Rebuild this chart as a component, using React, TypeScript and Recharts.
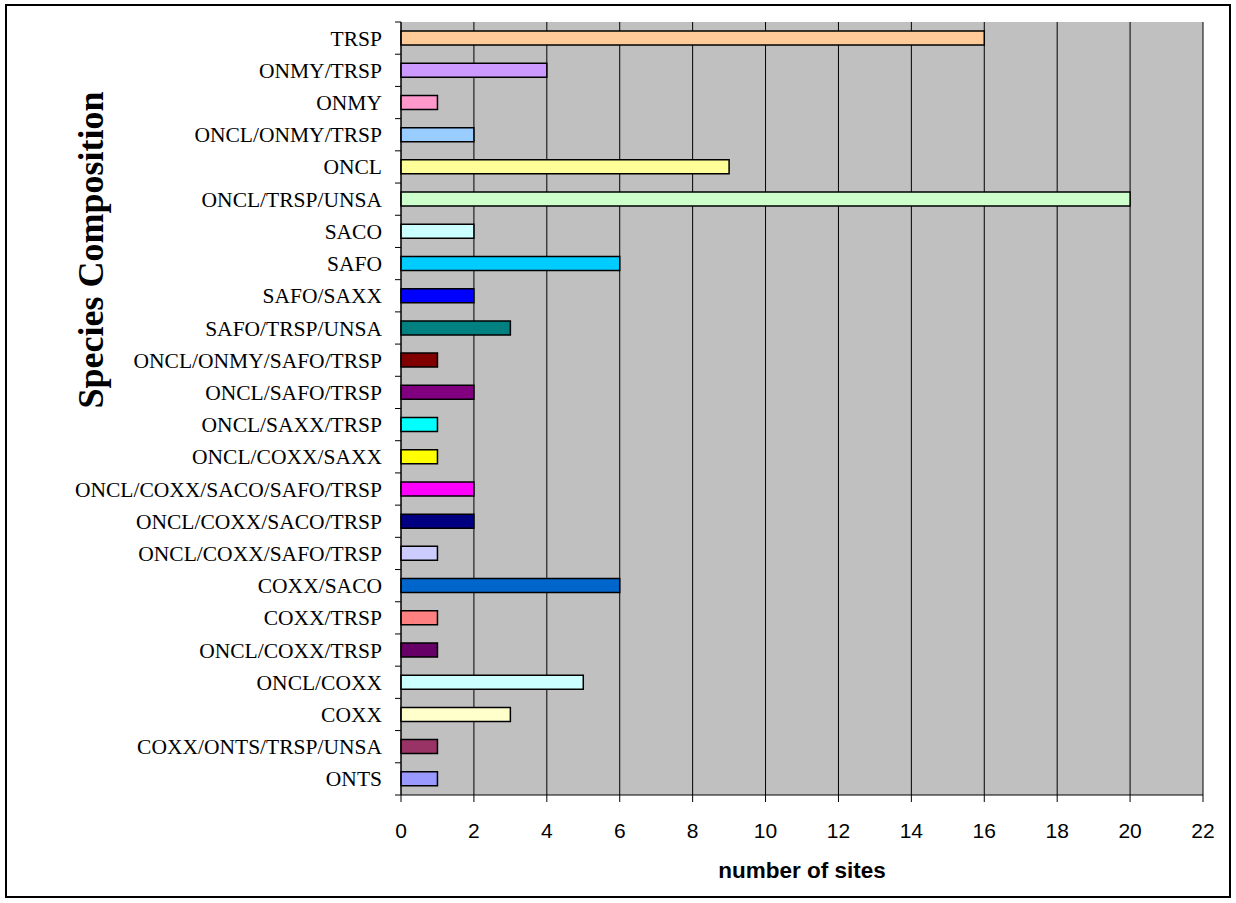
import { BarChart, Bar, Cell, XAxis, YAxis, CartesianGrid } from 'recharts';

const categories = [
  'TRSP',
  'ONMY/TRSP',
  'ONMY',
  'ONCL/ONMY/TRSP',
  'ONCL',
  'ONCL/TRSP/UNSA',
  'SACO',
  'SAFO',
  'SAFO/SAXX',
  'SAFO/TRSP/UNSA',
  'ONCL/ONMY/SAFO/TRSP',
  'ONCL/SAFO/TRSP',
  'ONCL/SAXX/TRSP',
  'ONCL/COXX/SAXX',
  'ONCL/COXX/SACO/SAFO/TRSP',
  'ONCL/COXX/SACO/TRSP',
  'ONCL/COXX/SAFO/TRSP',
  'COXX/SACO',
  'COXX/TRSP',
  'ONCL/COXX/TRSP',
  'ONCL/COXX',
  'COXX',
  'COXX/ONTS/TRSP/UNSA',
  'ONTS'
];

const siteCounts = [16, 4, 1, 2, 9, 20, 2, 6, 2, 3, 1, 2, 1, 1, 2, 2, 1, 6, 1, 1, 5, 3, 1, 1];

const barColors = [
  '#FFCC99', '#CC99FF', '#FF99CC', '#99CCFF', '#FFFF99', '#CCFFCC',
  '#CCFFFF', '#00CCFF', '#0000FF', '#008080', '#800000', '#800080',
  '#00FFFF', '#FFFF00', '#FF00FF', '#000080', '#CCCCFF', '#0066CC',
  '#FF8080', '#660066', '#CCFFFF', '#FFFFCC', '#993366', '#9999FF'
];

const xTicks = [0, 2, 4, 6, 8, 10, 12, 14, 16, 18, 20, 22];

// layout
const W = 1236;
const H = 903;
const PLOT_LEFT = 401;
const PLOT_TOP = 22;
const PLOT_BOTTOM = 795;
const BAND = (PLOT_BOTTOM - PLOT_TOP) / categories.length;

const data = categories.map((name, i) => ({ name, sites: siteCounts[i] }));

const CategoryTick = ({ y, payload, index }: any) => (
  <g>
    <line x1={PLOT_LEFT - 6} x2={PLOT_LEFT} y1={y - BAND / 2} y2={y - BAND / 2} stroke="#000" />
    {index === categories.length - 1 && (
      <line x1={PLOT_LEFT - 6} x2={PLOT_LEFT} y1={y + BAND / 2} y2={y + BAND / 2} stroke="#000" />
    )}
    <text
      x={PLOT_LEFT - 19}
      y={y}
      dy="0.35em"
      textAnchor="end"
      fontFamily="'Liberation Serif', 'Times New Roman', serif"
      fontSize={21.5}
      fill="#000"
    >
      {payload.value}
    </text>
  </g>
);

export default function App() {
  return (
    <div style={{ position: 'absolute', left: 0, top: 0, width: W, height: H, background: '#fff' }}>
      <div
        style={{
          position: 'absolute',
          left: 5,
          top: 4,
          width: 1222,
          height: 890,
          border: '2px solid #000'
        }}
      />
      <BarChart
        width={W}
        height={H}
        layout="vertical"
        data={data}
        margin={{ top: PLOT_TOP, right: 33, bottom: 8, left: 6 }}
        style={{ position: 'absolute', left: 0, top: 0 }}
      >
        <CartesianGrid horizontal={false} stroke="#000" fill="#C0C0C0" fillOpacity={1} />
        <XAxis
          type="number"
          domain={[0, 22]}
          ticks={xTicks}
          interval={0}
          height={100}
          tickSize={7}
          tickMargin={21}
          axisLine={{ stroke: '#000' }}
          tickLine={{ stroke: '#000' }}
          tick={{ fill: '#000', fontSize: 21, fontFamily: "'Liberation Sans', Arial, sans-serif" }}
          label={{
            content: () => (
              <text
                x={(PLOT_LEFT + W - 33) / 2}
                y={878}
                textAnchor="middle"
                fontFamily="'Liberation Sans', Arial, sans-serif"
                fontWeight="bold"
                fontSize={22.5}
                fill="#000"
              >
                number of sites
              </text>
            )
          }}
        />
        <YAxis
          type="category"
          dataKey="name"
          width={395}
          interval={0}
          tickLine={false}
          axisLine={{ stroke: '#000' }}
          tick={<CategoryTick />}
          label={{
            content: () => (
              <text
                x={90}
                y={250}
                transform="rotate(-90 90 250)"
                dy="0.35em"
                textAnchor="middle"
                fontFamily="'Liberation Serif', 'Times New Roman', serif"
                fontWeight="bold"
                fontSize={36}
                fill="#000"
              >
                Species Composition
              </text>
            )
          }}
        />
        <Bar dataKey="sites" barSize={14} stroke="#000" strokeWidth={1.5} isAnimationActive={false}>
          {data.map((d, i) => (
            <Cell key={d.name} fill={barColors[i]} />
          ))}
        </Bar>
      </BarChart>
    </div>
  );
}
